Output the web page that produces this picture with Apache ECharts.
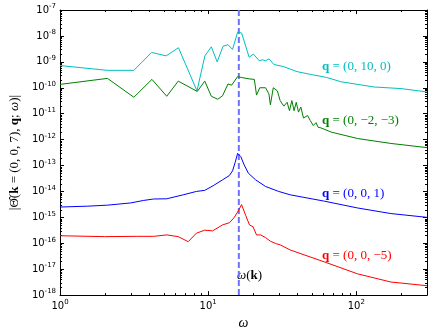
<!DOCTYPE html>
<html>
<head>
<meta charset="utf-8">
<script src="https://cdn.jsdelivr.net/npm/echarts@6/dist/echarts.min.js"></script>
<style>
html, body { margin: 0; padding: 0; background: #fff; }
#main { width: 433px; height: 335px; }
</style>
</head>
<body>
<div id="main"></div>
<script>
// omega of the mode k, where the dashed line sits
const omegaK = 16.1;
const xTicks = [1, 10, 100];
const yTicks = [1e-18, 1e-17, 1e-16, 1e-15, 1e-14, 1e-13, 1e-12, 1e-11, 1e-10, 1e-9, 1e-8, 1e-7];

// q = (0, 10, 0)
const cyanW = [1, 2.08, 3.15, 4.15, 5.2, 6.3, 8.4, 9.5, 10.5, 11.5, 12.6, 13.6, 14.6, 15.8, 16.8, 18.9, 20.2, 22.1, 23.2, 24.4, 25.7, 27.8, 32.4, 39.7, 48.8, 63, 79, 132, 200, 300];
const cyanV = [7.2e-10, 4.7e-10, 4.7e-10, 2.3e-9, 1.7e-9, 3.5e-9, 7.6e-11, 1.7e-9, 3.8e-9, 1.0e-9, 4.0e-9, 4.6e-9, 3.0e-9, 1.4e-8, 1.3e-8, 1.5e-9, 2.0e-9, 1.1e-9, 1.2e-9, 1.1e-9, 1.3e-9, 7.9e-10, 6.5e-10, 4.2e-10, 3.3e-10, 2.5e-10, 1.7e-10, 1.07e-10, 9.3e-11, 6.9e-11];

// q = (0, -2, -3)
const greenW = [1, 2.09, 3.15, 4.17, 5.25, 6.28, 8.44, 9.48, 10.5, 11.6, 12.5, 13.6, 14.4, 15.8, 16.7, 18.9, 20.5, 21.2, 22.3, 24.4, 25.7, 26.3, 27.5, 29.3, 30.6, 32.4, 34.1, 35.4, 36.7, 38, 39.3, 40.7, 42.2, 44, 46.9, 48.8, 51.2, 53.5, 55.2, 58, 67.6, 102, 171, 300];
const greenV = [1.35e-10, 2.3e-10, 4.3e-11, 2.1e-10, 4.7e-11, 1.8e-10, 7.2e-11, 1.8e-10, 4.7e-11, 3.6e-11, 4.9e-11, 1.4e-10, 1.26e-10, 2.7e-10, 2.5e-10, 2.2e-10, 2.1e-10, 5.2e-11, 1.0e-10, 1.0e-10, 5.8e-11, 2.2e-11, 1.0e-10, 7.6e-11, 3.2e-11, 1.95e-11, 2.75e-11, 1.3e-11, 3.2e-11, 1.3e-11, 2.75e-11, 1.15e-11, 1.8e-11, 6.8e-12, 8.5e-12, 5.5e-12, 3.5e-12, 4.5e-12, 3.0e-12, 2.8e-12, 1.95e-12, 1.1e-12, 7.1e-13, 4.9e-13];

// q = (0, 0, 1)
const blueW = [1, 1.54, 2.09, 3.0, 3.67, 4.28, 5.25, 6.78, 8.33, 9.48, 10.8, 12.5, 13.9, 14.6, 15.2, 15.8, 16.6, 17.5, 18.7, 20.9, 24.4, 29.9, 35.8, 61, 102, 171, 300];
const blueV = [2.5e-15, 2.7e-15, 2.95e-15, 3.6e-15, 4.5e-15, 5.1e-15, 5.2e-15, 7.4e-15, 1.0e-14, 1.1e-14, 1.66e-14, 2.8e-14, 4.1e-14, 6.2e-14, 1.3e-13, 2.95e-13, 2.2e-13, 1.05e-13, 5.0e-14, 2.8e-14, 1.55e-14, 1.0e-14, 7.4e-15, 4.2e-15, 2.3e-15, 1.4e-15, 1.0e-15];

// q = (0, 0, -5)
const redW = [1, 2, 3.3, 4.28, 5.25, 6.28, 7.33, 8.33, 9.48, 10.7, 12.5, 13.9, 14.9, 15.8, 16.8, 17.9, 19.0, 20.1, 21.2, 22.6, 24.4, 26.3, 28.5, 30.6, 35.8, 61, 102, 171, 300];
const redV = [1.95e-16, 1.8e-16, 1.85e-16, 1.85e-16, 2.1e-16, 1.8e-16, 1.15e-16, 2.45e-16, 3.2e-16, 3.0e-16, 5.1e-16, 6.2e-16, 9.5e-16, 1.6e-15, 3.1e-15, 1.2e-15, 5.1e-16, 4.3e-16, 2.1e-16, 2.1e-16, 1.65e-16, 1.2e-16, 9.8e-17, 8.7e-17, 5.5e-17, 1.9e-17, 6.6e-18, 3.2e-18, 2.3e-18];

const seriesNames = ['q = (0, 10, 0)', 'q = (0, −2, −3)', 'q = (0, 0, 1)', 'q = (0, 0, −5)'];
const seriesColors = ['#00bfbf', '#008000', '#0000ff', '#ff0000'];

const X_MIN = 1, X_MAX = 300, Y_MIN = 1e-18, Y_MAX = 1e-7;

function pairs(w, v) {
    return w.map((x, i) => [x, v[i]]);
}

function isTick(v, list) {
    return list.some(t => Math.abs(Math.log10(v) - Math.log10(t)) < 1e-6);
}

function powLabel(list) {
    return function (v) {
        if (!isTick(v, list)) return '';
        return '{b|10}{s|' + Math.round(Math.log10(v)) + '}';
    };
}

const tickRich = {
    b: { fontFamily: 'DejaVu Sans', fontSize: 10, color: '#000' },
    s: { fontFamily: 'DejaVu Sans', fontSize: 7, color: '#000', padding: [0, 0, 7, 0] }
};

// minor ticks at 2..9 x 10^n
const xMinor = [];
for (let d = 1; d <= 100; d *= 10) {
    for (let m = 2; m <= 9; m++) if (m * d < X_MAX) xMinor.push(m * d);
}
const yMinor = [];
for (let e = -18; e < -7; e++) {
    for (let m = 2; m <= 9; m++) yMinor.push(m * Math.pow(10, e));
}

function tickLine(x1, y1, x2, y2) {
    return { type: 'line', shape: { x1: x1, y1: y1, x2: x2, y2: y2 }, style: { stroke: '#000', lineWidth: 1 } };
}

function xMinorItem(params, api) {
    const b = api.coord([api.value(0), Y_MIN]);
    const t = api.coord([api.value(0), Y_MAX]);
    const x = Math.round(b[0]) + 0.5;
    return { type: 'group', children: [tickLine(x, b[1], x, b[1] - 2), tickLine(x, t[1], x, t[1] + 2)] };
}

function yMinorItem(params, api) {
    const l = api.coord([X_MIN, api.value(1)]);
    const r = api.coord([X_MAX, api.value(1)]);
    const y = Math.round(l[1]) + 0.5;
    return { type: 'group', children: [tickLine(l[0], y, l[0] + 2, y), tickLine(r[0], y, r[0] - 2, y)] };
}

const axisLine = { show: true, lineStyle: { color: '#000', width: 1 } };
const axisTick = { show: true, inside: true, length: 4, lineStyle: { color: '#000' } };

function xAxisCfg(pos, showLabel) {
    return {
        type: 'log', logBase: 10, min: X_MIN, max: X_MAX, interval: 1, position: pos,
        axisLine: axisLine, axisTick: axisTick, splitLine: { show: false },
        axisLabel: { show: showLabel, margin: 4, formatter: powLabel(xTicks), rich: tickRich }
    };
}

function yAxisCfg(pos, showLabel) {
    return {
        type: 'log', logBase: 10, min: Y_MIN, max: Y_MAX, interval: 1, position: pos,
        axisLine: axisLine, axisTick: axisTick, splitLine: { show: false },
        axisLabel: { show: showLabel, margin: 4, formatter: powLabel(yTicks), rich: tickRich }
    };
}

const xBottom = xAxisCfg('bottom', true);
xBottom.name = 'ω';
xBottom.nameLocation = 'middle';
xBottom.nameGap = 16;
xBottom.nameTextStyle = { fontFamily: 'Liberation Serif', fontStyle: 'italic', fontSize: 14, color: '#000' };

const yLeft = yAxisCfg('left', true);
yLeft.name = '{t||Θ̂(}{b|k}{t| = (0, 0, 7), }{b|q}{t|; }{i|ω}{t|)|}';
yLeft.nameLocation = 'middle';
yLeft.nameRotate = 90;
yLeft.nameGap = 34;
yLeft.nameTextStyle = {
    rich: {
        t: { fontFamily: 'Liberation Serif', fontSize: 13, color: '#000' },
        b: { fontFamily: 'Liberation Serif', fontSize: 13, fontWeight: 'bold', color: '#000' },
        i: { fontFamily: 'Liberation Serif', fontSize: 13, fontStyle: 'italic', color: '#000' }
    }
};

const lineSeries = [[cyanW, cyanV], [greenW, greenV], [blueW, blueV], [redW, redV]].map((s, i) => ({
    name: seriesNames[i],
    type: 'line',
    data: pairs(s[0], s[1]),
    showSymbol: false,
    symbol: 'none',
    lineStyle: { color: seriesColors[i], width: 1 },
    itemStyle: { color: seriesColors[i] },
    z: 3
}));

const labelTops = [68, 122, 195, 257];

function qLabel(i) {
    const c = seriesColors[i];
    return {
        type: 'text', left: 322, top: labelTops[i] - 8,
        style: {
            text: '{b|q}{n|' + seriesNames[i].slice(1) + '}',
            rich: {
                b: { fontFamily: 'Liberation Serif', fontSize: 13, fontWeight: 'bold', fill: c, color: c },
                n: { fontFamily: 'Liberation Serif', fontSize: 13, fill: c, color: c }
            }
        }
    };
}

const myChart = echarts.init(document.getElementById('main'));

const option = {
    animation: false,
    backgroundColor: '#fff',
    grid: { left: 55, right: 6, top: 10, bottom: 37 },
    xAxis: [xBottom, xAxisCfg('top', false)],
    yAxis: [yLeft, yAxisCfg('right', false)],
    graphic: [0, 1, 2, 3].map(qLabel).concat([{
        type: 'text', left: 237, top: 269,
        style: {
            text: '{i|ω}{n|(}{b|k}{n|)}',
            rich: {
                i: { fontFamily: 'Liberation Serif', fontSize: 13, fontStyle: 'italic', fill: '#000' },
                n: { fontFamily: 'Liberation Serif', fontSize: 13, fill: '#000' },
                b: { fontFamily: 'Liberation Serif', fontSize: 13, fontWeight: 'bold', fill: '#000' }
            }
        }
    }]),
    series: lineSeries.concat([
        {
            name: 'omega(k)',
            type: 'line',
            data: [[omegaK, Y_MIN], [omegaK, Y_MAX]],
            showSymbol: false,
            symbol: 'none',
            lineStyle: { color: '#7070ff', width: 2, type: [6, 3] },
            z: 2
        },
        {
            type: 'custom',
            renderItem: xMinorItem,
            data: xMinor.map(v => [v, Y_MIN]),
            encode: { x: 0, y: 1 },
            clip: false,
            silent: true
        },
        {
            type: 'custom',
            renderItem: yMinorItem,
            data: yMinor.map(v => [X_MIN, v]),
            encode: { x: 0, y: 1 },
            clip: false,
            silent: true
        }
    ])
};

myChart.setOption(option);
</script>
</body>
</html>
